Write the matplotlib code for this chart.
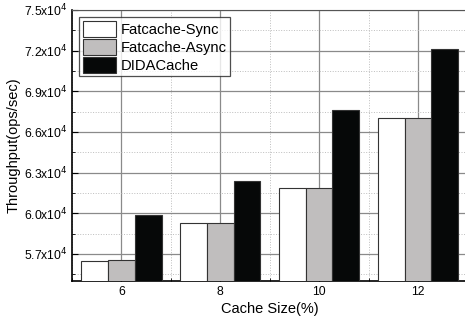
import numpy as np
import matplotlib.pyplot as plt
from matplotlib.ticker import MultipleLocator, FuncFormatter

plt.rcParams['font.family'] = ['Liberation Sans', 'DejaVu Sans']

cache_sizes = [6, 8, 10, 12]
series_names = ["Fatcache-Sync", "Fatcache-Async", "DIDACache"]
fatcache_sync = [56500, 59300, 61850, 67000]
fatcache_async = [56550, 59320, 61900, 67050]
didacache = [59850, 62400, 67600, 72100]
colors = ["white", "#c0bebe", "#060808"]

fig = plt.figure(figsize=(4.65, 3.22), dpi=100)
ax = fig.add_axes([0.155, 0.127, 0.85, 0.842])

x = np.array(cache_sizes, dtype=float)
w = 0.54
for i, (vals, c, name) in enumerate(zip([fatcache_sync, fatcache_async, didacache], colors, series_names)):
    ax.bar(x + (i - 1) * w, vals, width=w, color=c, edgecolor="#333333",
           linewidth=0.8, label=name, zorder=3)

ax.set_xlim(5, 13)
ax.set_ylim(55000, 75000)
ax.set_xticks(cache_sizes)
ax.xaxis.set_minor_locator(MultipleLocator(1))
ax.yaxis.set_major_locator(MultipleLocator(3000))
ax.yaxis.set_minor_locator(MultipleLocator(1500))


def sci_fmt(v, pos):
    return "%.1fx10$^{4}$" % (v / 1e4)


ax.yaxis.set_major_formatter(FuncFormatter(sci_fmt))
ax.set_yticks(np.arange(57000, 75001, 3000))

ax.grid(which="major", color="#8a8a8a", linewidth=0.9, linestyle="-", zorder=0)
ax.grid(which="minor", color="#bdbdbd", linewidth=0.7, linestyle=":", zorder=0)
ax.tick_params(which="both", direction="in", labelsize=8.7, top=False, right=False)
ax.tick_params(which="major", length=4)
ax.tick_params(which="minor", length=2)
for s in ["left", "bottom"]:
    ax.spines[s].set_linewidth(1.2)
for s in ["top", "right"]:
    ax.spines[s].set_color("#555555")

ax.set_xlabel("Cache Size(%)", fontsize=10.5, labelpad=3)
ax.set_ylabel("Throughput(ops/sec)", fontsize=10.5, labelpad=2)

leg = ax.legend(loc="upper left", fontsize=10.6, frameon=True, fancybox=False,
                edgecolor="#222222", handlelength=2.2, handleheight=1.3,
                handletextpad=0.35, borderpad=0.25, labelspacing=0.12,
                borderaxespad=0.5)
leg.get_frame().set_linewidth(0.9)
leg.set_zorder(5)

fig.savefig("out.png", dpi=100)
